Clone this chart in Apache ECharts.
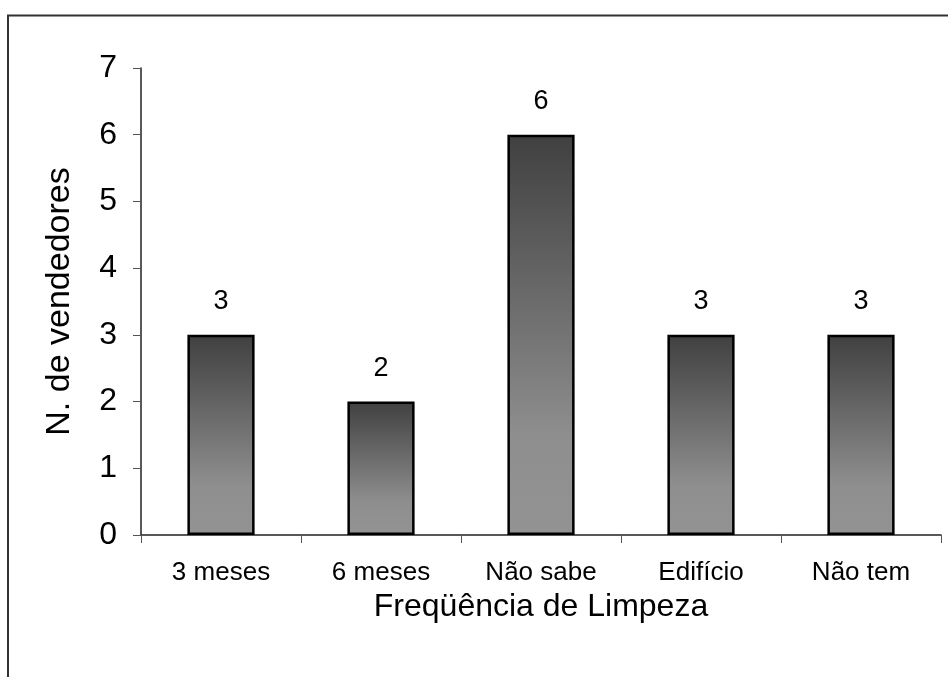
<!DOCTYPE html>
<html>
<head>
<meta charset="utf-8">
<title>Freqüência de Limpeza</title>
<script src="https://cdn.jsdelivr.net/npm/echarts@6/dist/echarts.min.js"></script>
<style>
  html, body { margin: 0; padding: 0; background: #fff; }
  #chart { width: 948px; height: 677px; }
</style>
</head>
<body>
<div id="chart"></div>
<script>
// dados
const categorias = ['3 meses', '6 meses', 'Não sabe', 'Edifício', 'Não tem']
const vendedores = [3, 2, 6, 3, 3]
const yTicks = [0, 1, 2, 3, 4, 5, 6, 7]

const fonte = '"Liberation Sans", Arial, sans-serif'

const chart = echarts.init(document.getElementById('chart'))

// gradiente das barras: escuro em cima, claro embaixo
const barGradient = new echarts.graphic.LinearGradient(0, 0, 0, 1, [
  { offset: 0, color: '#404040' },
  { offset: 0.75, color: '#8e8e8e' },
  { offset: 1, color: '#939393' }
])

chart.setOption({
  animation: false,
  backgroundColor: '#fff',
  textStyle: { fontFamily: fonte },
  grid: { left: 141, right: 7, top: 68, bottom: 142 },
  // moldura (cortada à direita e embaixo)
  graphic: [
    {
      type: 'polyline',
      shape: { points: [[8, 677], [8, 15.5], [948, 15.5]] },
      style: { stroke: '#333', lineWidth: 2, fill: null }
    }
  ],
  xAxis: {
    type: 'category',
    data: categorias,
    name: 'Freqüência de Limpeza',
    nameLocation: 'middle',
    nameGap: 50,
    nameTextStyle: { fontSize: 32, color: '#000', fontFamily: fonte },
    axisLine: { lineStyle: { color: '#222', width: 1.5 } },
    axisTick: { show: true, length: 8, lineStyle: { color: '#555' } },
    axisLabel: { fontSize: 26, color: '#000', margin: 25, fontFamily: fonte },
    splitLine: { show: false }
  },
  yAxis: {
    type: 'value',
    min: yTicks[0],
    max: yTicks[yTicks.length - 1],
    interval: 1,
    name: 'N. de vendedores',
    nameLocation: 'middle',
    nameGap: 64,
    nameTextStyle: { fontSize: 34, color: '#000', fontFamily: fonte },
    axisLine: { show: true, lineStyle: { color: '#222', width: 1.5 } },
    axisTick: { show: true, length: 8, lineStyle: { color: '#555' } },
    axisLabel: { fontSize: 32, color: '#000', margin: 24, fontFamily: fonte },
    splitLine: { show: false }
  },
  series: [
    {
      type: 'bar',
      data: vendedores,
      barWidth: '42%',
      itemStyle: {
        color: barGradient,
        borderColor: '#000',
        borderWidth: 2.5
      },
      label: {
        show: true,
        position: 'top',
        distance: 20,
        fontSize: 27,
        color: '#000',
        fontFamily: fonte
      }
    }
  ]
})
</script>
</body>
</html>
